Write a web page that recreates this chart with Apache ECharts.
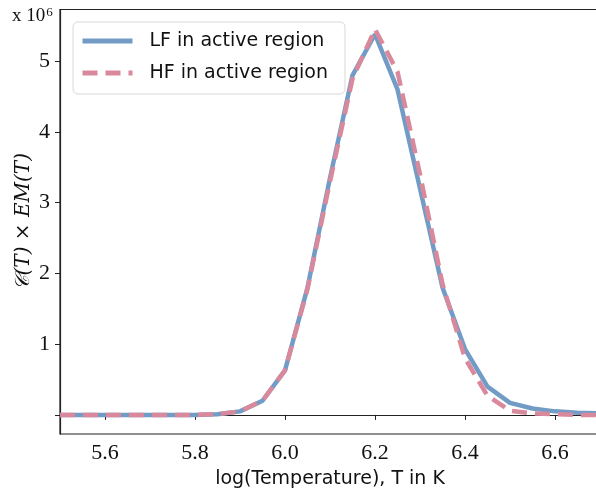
<!DOCTYPE html>
<html>
<head>
<meta charset="utf-8">
<script src="https://cdn.jsdelivr.net/npm/echarts@6/dist/echarts.min.js"></script>
<style>html,body{margin:0;padding:0;background:#fff}#c{width:596px;height:489px}</style>
</head>
<body>
<div id="c"></div>
<script>
var logT = [5.5,5.55,5.6,5.65,5.7,5.75,5.8,5.85,5.9,5.95,6.0,6.05,6.1,6.15,6.2,6.25,6.3,6.35,6.4,6.45,6.5,6.55,6.6,6.65,6.7];
var lfValues = [0,0,0,0,0,0,0,0.01,0.05,0.2,0.63,1.8,3.35,4.8,5.38,4.6,3.2,1.8,0.93,0.4,0.17,0.09,0.05,0.03,0.02];
var hfValues = [0,0,0,0,0,0,0,0.01,0.05,0.2,0.63,1.78,3.3,4.75,5.45,4.85,3.4,1.85,0.8,0.27,0.06,0.02,0.01,0.0,0.0];
var xTicks = [5.6,5.8,6.0,6.2,6.4,6.6];
var yTicks = [0,1,2,3,4,5];
var yLabels = [1,2,3,4,5];

function pairs(xs, ys){ return xs.map(function(x,i){ return [x, ys[i]]; }); }

var chart = echarts.init(document.getElementById('c'), null, {renderer:'canvas'});
chart.setOption({
  animation:false,
  backgroundColor:'#fff',
  grid:{left:60, right:-4, top:9.5, bottom:55, show:true, borderColor:'#222', borderWidth:1.2,
        backgroundColor:'transparent', containLabel:false, outerBoundsMode:'none'},
  xAxis:{
    type:'value', min:5.5, max:6.7,
    name:'log(Temperature), T in K', nameLocation:'middle', nameGap:36, nameMoveOverlap:false,
    nameTextStyle:{fontFamily:'DejaVu Sans', fontSize:19, color:'#111'},
    axisLine:{show:true, lineStyle:{color:'#222', width:1.2}},
    axisTick:{show:true, customValues:xTicks, length:5, lineStyle:{color:'#222'}},
    axisLabel:{customValues:xTicks, margin:8, fontFamily:'Liberation Serif', fontSize:22, color:'#111',
      formatter:function(v){return v.toFixed(1);}},
    splitLine:{show:false}
  },
  yAxis:{
    type:'value', min:-0.27, max:5.73,
    name:'𝒞(T) × EM(T)', nameLocation:'middle', nameGap:26, nameRotate:90, nameMoveOverlap:false,
    nameTextStyle:{fontFamily:'DejaVu Serif', fontStyle:'italic', fontSize:20, color:'#111'},
    axisLine:{show:true, lineStyle:{color:'#222', width:1.2}},
    axisTick:{show:true, customValues:yTicks, length:5, lineStyle:{color:'#222'}},
    axisLabel:{customValues:yLabels, margin:10, fontFamily:'Liberation Serif', fontSize:22, color:'#111'},
    splitLine:{show:false}
  },
  legend:{
    orient:'vertical', left:73, top:22,
    padding:[9,17,11,7], itemGap:12, itemWidth:50, itemHeight:20,
    backgroundColor:'rgba(255,255,255,0.85)', borderColor:'#d8d8d8', borderWidth:1, borderRadius:5,
    itemStyle:{opacity:0},
    lineStyle:{width:5},
    textStyle:{fontFamily:'DejaVu Sans', fontSize:19, color:'#111', padding:[0,0,0,12], lineHeight:20},
    data:['LF in active region','HF in active region']
  },
  graphic:[{
    type:'text', left:12, top:6,
    style:{text:'{a|x 10}{b|6}', rich:{a:{fontFamily:'Liberation Serif', fontSize:19, fill:'#111'}, b:{fontFamily:'Liberation Serif', fontSize:13, fill:'#111', verticalAlign:'top', padding:[0,0,8,1]}}}
  }],
  series:[
    {name:'LF in active region', type:'line', data:pairs(logT, lfValues), symbol:'none', smooth:false,
     lineStyle:{color:'#729cc6', width:4.5}, itemStyle:{color:'#729cc6'}, z:2},
    {name:'HF in active region', type:'line', data:pairs(logT, hfValues), symbol:'none', smooth:false,
     lineStyle:{color:'#d9899b', width:4.5, type:[15,8]}, itemStyle:{color:'#d9899b'}, z:3}
  ]
});
</script>
</body>
</html>
